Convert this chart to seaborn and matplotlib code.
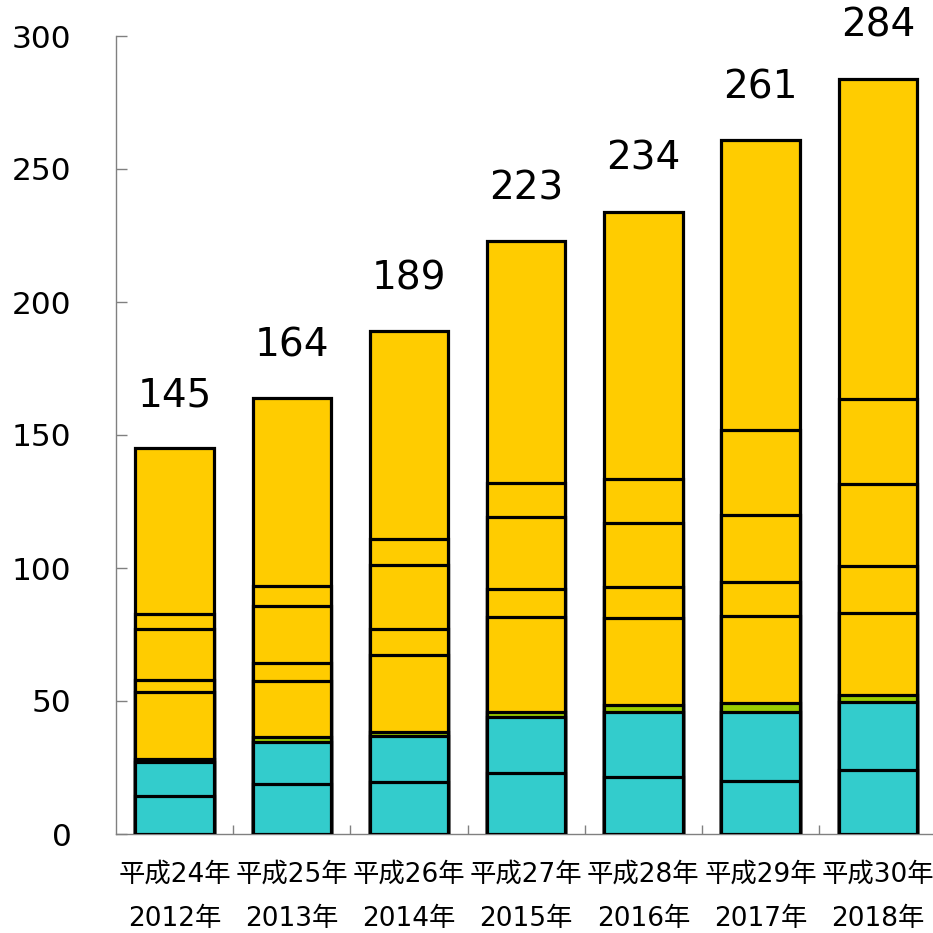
import matplotlib
matplotlib.use("Agg")
import matplotlib.pyplot as plt
from matplotlib.ticker import FixedLocator
import numpy as np
import pandas as pd
import seaborn as sns

# ---- data ----
eras = ["平成24年", "平成25年", "平成26年", "平成27年", "平成28年", "平成29年", "平成30年"]
years = ["2012年", "2013年", "2014年", "2015年", "2016年", "2017年", "2018年"]
totals = [145, 164, 189, 223, 234, 261, 284]

teal_1 = [14.3, 18.8, 19.5, 22.9, 21.6, 19.8, 24.2]
teal_2 = [12.7, 15.6, 17.4, 21.1, 24.2, 26.2, 25.4]
green_1 = [1.3, 2.0, 1.6, 1.7, 2.7, 3.1, 2.7]
yellow_1 = [25.1, 21.0, 28.7, 35.7, 32.6, 32.9, 30.9]
yellow_2 = [4.6, 6.9, 9.9, 10.7, 11.8, 12.8, 17.4]
yellow_3 = [19.1, 21.5, 24.2, 27.2, 24.1, 25.1, 31.0]
yellow_4 = [5.7, 7.6, 9.5, 12.6, 16.5, 31.9, 31.8]
yellow_5 = [62.2, 70.6, 78.2, 91.1, 100.5, 109.2, 120.6]

TEAL = "#33CCCC"
GREEN = "#99CC00"
YELLOW = "#FFCC00"

layers = [teal_1, teal_2, green_1, yellow_1, yellow_2, yellow_3, yellow_4, yellow_5]
colors = [TEAL, TEAL, GREEN, YELLOW, YELLOW, YELLOW, YELLOW, YELLOW]

labels = [f"{e}\n{y}" for e, y in zip(eras, years)]
cum = np.cumsum(np.array(layers), axis=0)

sns.set_theme(style="white")
plt.rcParams["font.family"] = ["DejaVu Sans", "Noto Sans CJK JP"]
plt.rcParams["text.color"] = "black"
plt.rcParams["xtick.labelcolor"] = "black"
plt.rcParams["ytick.labelcolor"] = "black"

fig = plt.figure(figsize=(9.33, 9.33), dpi=100)
ax = fig.add_axes([116 / 933, 99 / 933, 820.4 / 933, 798 / 933])

# draw from top layer down (cumulative heights overlap)
for i in range(len(layers) - 1, -1, -1):
    df = pd.DataFrame({"cat": labels, "val": cum[i]})
    sns.barplot(data=df, x="cat", y="val", order=labels, color=colors[i],
                saturation=1, edgecolor="black", linewidth=2.3, width=0.67,
                ax=ax, zorder=2)

# totals on top
for i, t in enumerate(totals):
    ax.annotate(str(t), xy=(i, t), xytext=(0, 30), textcoords="offset points",
                ha="center", va="baseline", fontsize=28, color="black")

ax.set_xlim(-0.5, 6.5)
ax.set_ylim(0, 300)
ax.set_yticks([0, 50, 100, 150, 200, 250, 300])
ax.set_xlabel("")
ax.set_ylabel("")

for s in ["top", "right"]:
    ax.spines[s].set_visible(False)
for s in ["left", "bottom"]:
    ax.spines[s].set_color("#808080")
    ax.spines[s].set_linewidth(1.0)
    ax.spines[s].set_zorder(1)

ax.tick_params(axis="y", direction="in", length=8, width=1.0, color="#808080",
               labelsize=22.5, pad=32, left=True, labelcolor="black")
ax.xaxis.set_minor_locator(FixedLocator(np.arange(0.5, 6.5, 1.0)))
ax.tick_params(axis="x", which="major", length=0, labelsize=19, pad=20,
               labelcolor="black")
ax.tick_params(axis="x", which="minor", direction="in", length=6.5, width=1.0,
               color="#808080", bottom=True)
for lab in ax.get_xticklabels():
    lab.set_linespacing(1.9)

ax.grid(False)
fig.savefig("out.png", dpi=100)
